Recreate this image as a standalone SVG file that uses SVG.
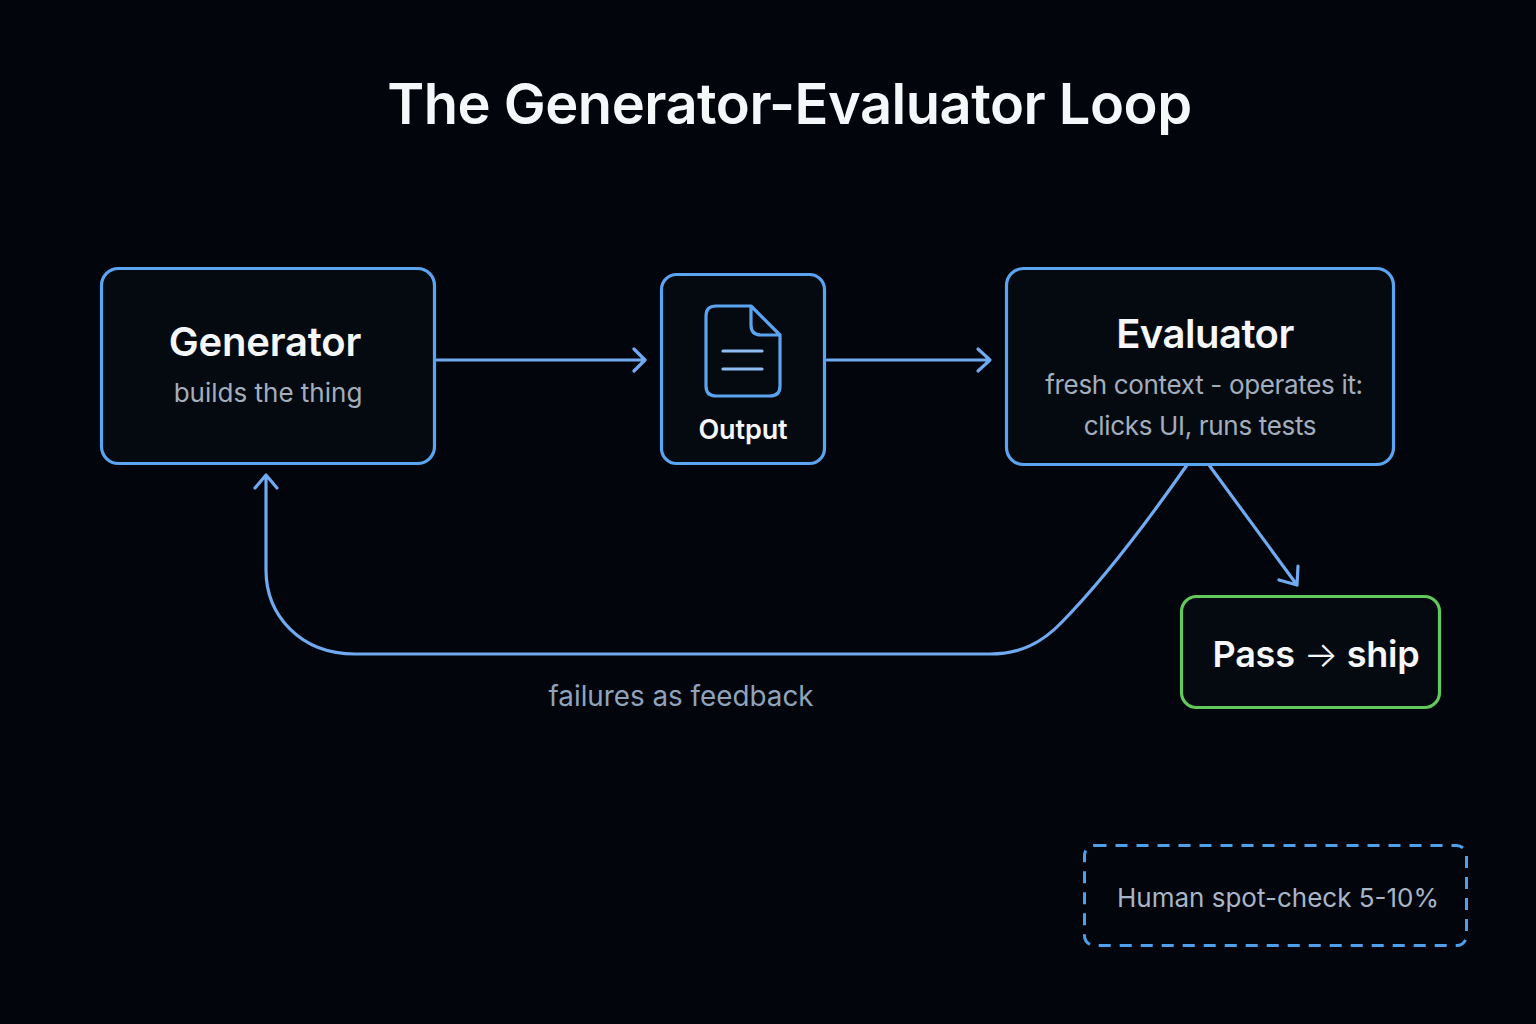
<svg xmlns="http://www.w3.org/2000/svg" width="1536" height="1024" viewBox="0 0 1536 1024">
<style>
text{font-family:Inter,"Liberation Sans",sans-serif;text-anchor:middle}
.box{fill:#050a11;stroke:#5ba4f0;stroke-width:3.200}
.ln{fill:none;stroke:#70aaf0;stroke-width:3.200;stroke-linecap:round;stroke-linejoin:round}
.h{fill:#f5f7fa;font-weight:600;font-size:40px;letter-spacing:-.2px}
.s{fill:#a3aebc;font-size:26px}
</style>
<rect width="1536" height="1024" fill="#02050c"/>
<text id="title" x="789.500" y="124" fill="#f5f7fa" font-size="56" font-weight="600" letter-spacing="-.5">The Generator-Evaluator Loop</text>
<g id="connectors">
<path class="ln" d="M436 360H644M634 349L645 360L634 371"/>
<path class="ln" d="M827 360H989M978 349L990 360L978 371"/>
<path class="ln" d="M1187 465C1150 518 1105 578 1062 622C1042 643 1020 654 990 654H355C300 654 266 615 266 570V475M255 488L266 475L277 488"/>
<path class="ln" d="M1209 465L1297 585M1279 580L1297 585L1298 566"/>
</g>
<g id="generator"><rect class="box" x="101.500" y="268.500" width="333" height="195" rx="17"/>
<text class="h" x="265" y="356">Generator</text><text class="s" x="268" y="402">builds the thing</text></g>
<g id="output"><rect class="box" x="661.500" y="274.500" width="163" height="189" rx="15"/>
<path class="ln" style="stroke:#5ba4f0" d="M751 306H716Q706 306 706 316V386Q706 396 716 396H770Q780 396 780 386V335ZM751 306V325Q751 335 761 335H780"/>
<path class="ln" style="stroke:#8fbcf2" d="M723 351H762M723 369H762"/>
<text x="743" y="439" fill="#f5f7fa" font-size="27" font-weight="600" letter-spacing="-.1">Output</text></g>
<g id="evaluator"><rect class="box" x="1006.500" y="268.500" width="387" height="196" rx="17"/>
<text class="h" x="1205" y="348" letter-spacing="-.4" style="letter-spacing:-.5px">Evaluator</text><text class="s" x="1204" y="394" letter-spacing="-.33" style="letter-spacing:-.33px">fresh context - operates it:</text><text class="s" x="1200" y="435" style="letter-spacing:-.33px">clicks UI, runs tests</text></g>
<g id="pass"><rect x="1181.500" y="596.500" width="258" height="111" rx="15" fill="#050a11" stroke="#62c95c" stroke-width="3.200"/>
<text class="h" x="1316" y="667" style="font-size:36px">Pass <tspan font-weight="300">→</tspan> ship</text></g>
<text id="feedback-label" class="s" x="681" y="706" style="fill:#8fa3bb;font-size:27.800px">failures as feedback</text>
<g id="human"><rect x="1084.500" y="845.500" width="382" height="100" rx="10" fill="none" stroke="#4fa0ea" stroke-width="3" stroke-dasharray="12 9"/>
<text class="s" x="1278" y="907" style="fill:#a8b5c6">Human spot-check 5-10%</text></g>
</svg>
